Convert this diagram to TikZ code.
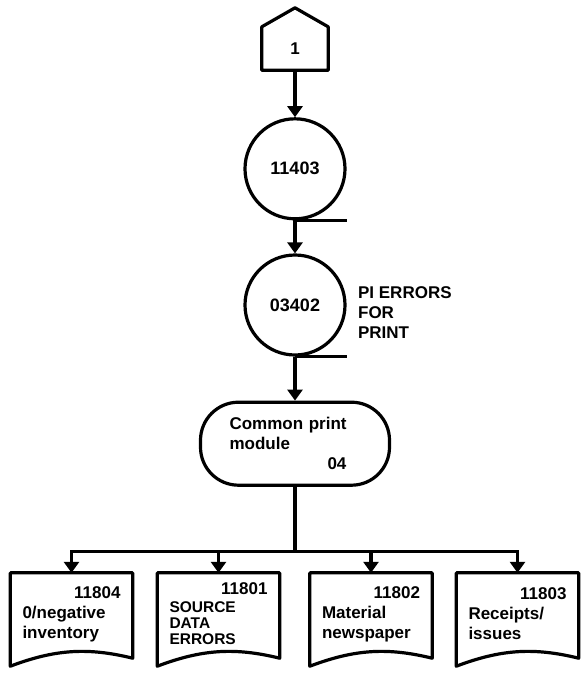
\documentclass[tikz,border=0pt]{standalone}
\usepackage{fontspec}
\setmainfont{Liberation Sans}
\usetikzlibrary{arrows.meta, positioning, calc}
\newcommand{\lbl}{\fontsize{17}{20}\selectfont\bfseries}

\begin{document}
\begin{tikzpicture}[x=1pt, y=-1pt,
    proc/.style={circle, draw, line width=3.2pt, minimum size=100pt, inner sep=0pt,
                 font=\fontsize{18}{20}\selectfont\bfseries},
    modbox/.style={rectangle, rounded corners=38pt, draw, line width=3.2pt,
                   minimum width=189pt, minimum height=83pt, text width=131pt,
                   align=left, font=\lbl},
    docbox/.style={rectangle, minimum width=122pt, minimum height=82pt,
                   text width=98pt, inner sep=0pt, align=left, font=\lbl},
    wire/.style={line width=3.2pt},
    arr/.style={-{Triangle[width=15pt,length=11pt]}, line width=3.2pt}
]
\useasboundingbox (0,0) rectangle (583,675);

% connector off-page symbol
\node[minimum width=66pt, minimum height=43pt, font=\lbl] (start) at (295,48.5) {1};
\draw[wire, line join=round] (start.south west) -- (start.north west) -- ($(start.north)+(0,19pt)$)
    -- (start.north east) -- (start.south east) -- cycle;

\node[proc, below=47pt of start] (p1) {11403};
\node[proc, below=33pt of p1] (p2) {03402};
\node[anchor=west, align=left, font=\lbl] (note) at ($(p2.east)+(8pt,-8pt)$) {PI ERRORS\\FOR\\PRINT};
\node[modbox, below=44pt of p2] (mod) {Common print\\module\\\hspace*{98pt}04};

\draw[arr] (start) -- (p1);
\draw[arr] (p1) -- (p2);
\draw[arr] (p2) -- (mod);
\draw[wire] (p1.south) -- ++(52pt,0pt);
\draw[wire] (p2.south) -- ++(52pt,0pt);

% reports
\node[docbox] (d1) at (71.5,614) {\hfill 11804\\0/negative\\inventory};
\node[docbox, font=\fontsize{15.5}{16}\selectfont\bfseries] (d2) at (218.5,614)
    {\hfill{\lbl 11801}\\[2pt]SOURCE\\DATA\\ERRORS};
\node[docbox] (d3) at (371,614) {\hfill 11802\\Material\\newspaper};
\node[docbox] (d4) at (517.5,614) {\hfill 11803\\Receipts/\\issues};
\foreach \d in {d1,d2,d3,d4}
  \draw[wire, line join=round] (\d.north west) -- (\d.north east) -- ($(\d.south east)+(0,-3pt)$)
      .. controls ($(\d.south east)+(-45pt,8pt)$) and ($(\d.south west)+(45pt,6pt)$)
      .. ($(\d.south west)+(0,-11pt)$) -- cycle;

\coordinate (bus) at ($(mod.south)+(0,-65pt)$);
\draw[wire] (mod.south) -- (bus);
\foreach \d in {d1,d2,d3,d4}
  \draw[arr] (bus) -| (\d.north);
\end{tikzpicture}
\end{document}
